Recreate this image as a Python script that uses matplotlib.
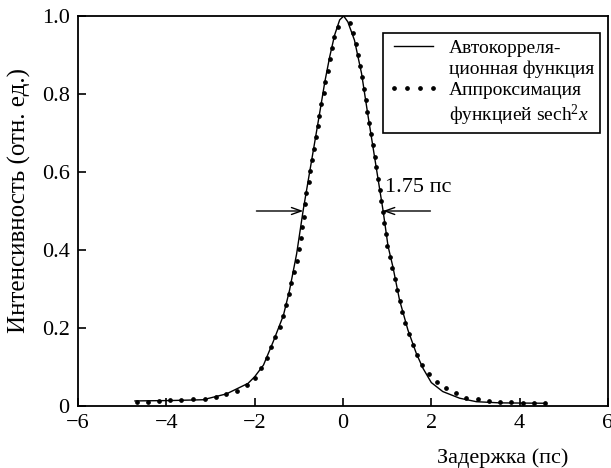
import matplotlib
matplotlib.use("Agg")
import matplotlib.pyplot as plt
from matplotlib.lines import Line2D

plt.rcParams['font.family'] = ['Liberation Serif', 'DejaVu Serif']
plt.rcParams['mathtext.fontset'] = 'custom'
plt.rcParams['mathtext.rm'] = 'Liberation Serif'
plt.rcParams['mathtext.it'] = 'Liberation Serif:italic'

# Autocorrelation trace (solid line)
acf_x = [-4.71, -3.9, -3.17, -2.64, -2.15, -2.0, -1.8, -1.58, -1.35, -1.21, -1.05,
         -0.90, -0.53, -0.41, -0.30, -0.19, -0.075, 0.016, 0.11, 0.26, 0.42, 0.57,
         0.905, 1.02, 1.13, 1.28, 1.47, 1.66, 1.81, 2.0, 2.26, 2.64, 3.02, 3.55, 4.6]
acf_y = [0.013, 0.014, 0.016, 0.031, 0.058, 0.075, 0.105, 0.165, 0.232, 0.297, 0.39,
         0.503, 0.75, 0.832, 0.896, 0.951, 0.99, 1.0, 0.985, 0.938, 0.853, 0.742,
         0.503, 0.41, 0.357, 0.272, 0.195, 0.135, 0.097, 0.06, 0.037, 0.02, 0.011, 0.008, 0.007]

# sech^2 approximation (dots)
fit_x = [-4.67, -4.41, -4.16, -3.91, -3.66, -3.39, -3.13, -2.88, -2.64, -2.40, -2.17,
         -2.00, -1.86, -1.73, -1.62, -1.53, -1.43, -1.36, -1.28, -1.22, -1.17, -1.11,
         -1.05, -0.995, -0.95, -0.92, -0.89, -0.87, -0.83, -0.78, -0.74, -0.70, -0.66,
         -0.60, -0.57, -0.54, -0.49, -0.44, -0.40, -0.35, -0.30, -0.25, -0.20, -0.11,
         0.15, 0.23, 0.29, 0.34, 0.39, 0.43, 0.47, 0.51, 0.54, 0.58, 0.63, 0.68, 0.72,
         0.75, 0.79, 0.83, 0.87, 0.905, 0.92, 0.97, 1.0, 1.06, 1.11, 1.17, 1.22, 1.28,
         1.34, 1.41, 1.49, 1.58, 1.67, 1.80, 1.94, 2.13, 2.34, 2.57, 2.79, 3.05, 3.30,
         3.56, 3.81, 4.07, 4.33, 4.58]
fit_y = [0.011, 0.011, 0.013, 0.0145, 0.015, 0.017, 0.019, 0.022, 0.030, 0.038, 0.053,
         0.071, 0.097, 0.122, 0.150, 0.176, 0.203, 0.231, 0.259, 0.287, 0.316, 0.344,
         0.372, 0.402, 0.430, 0.458, 0.485, 0.517, 0.545, 0.575, 0.603, 0.631, 0.66,
         0.69, 0.718, 0.744, 0.774, 0.803, 0.832, 0.859, 0.889, 0.917, 0.945, 0.973,
         0.983, 0.956, 0.928, 0.90, 0.872, 0.843, 0.813, 0.785, 0.755, 0.726, 0.697, 0.669, 0.639,
         0.612, 0.582, 0.554, 0.526, 0.498, 0.468, 0.44, 0.411, 0.383, 0.354, 0.325, 0.297, 0.269,
         0.24, 0.212, 0.184, 0.156, 0.131, 0.105, 0.082, 0.062, 0.045, 0.034, 0.021, 0.017, 0.013,
         0.010, 0.010, 0.008, 0.008, 0.008]

x_ticks = [-6, -4, -2, 0, 2, 4, 6]
x_tick_labels = ['\u22126', '\u22124', '\u22122', '0', '2', '4', '6']
y_ticks = [0, 0.2, 0.4, 0.6, 0.8, 1.0]
y_tick_labels = ['0', '0.2', '0.4', '0.6', '0.8', '1.0']

fwhm_left = [-1.96, -0.90]
fwhm_right = [1.98, 0.905]
fwhm_level = 0.5
fwhm_label = '1.75 пс'

legend_lines = ['Автокорреля-', 'ционная функция',
                'Аппроксимация', 'функцией sech$^2\\mathit{x}$']

fig = plt.figure(figsize=(6.11, 4.68), dpi=100)
ax = fig.add_axes([0.1277, 0.1325, 0.995 - 0.1277, 0.9658 - 0.1325])

h_acf, = ax.plot(acf_x, acf_y, color='black', lw=1.0)
h_fit, = ax.plot(fit_x, fit_y, linestyle='none', marker='o', ms=2.4, color='black')

ax.set_xlim(-6, 6)
ax.set_ylim(0, 1.0)
ax.set_xticks(x_ticks)
ax.set_xticklabels(x_tick_labels)
ax.set_yticks(y_ticks)
ax.set_yticklabels(y_tick_labels)
ax.tick_params(direction='in', length=6, width=1.2, labelsize=16, pad=6)
for s in ax.spines.values():
    s.set_linewidth(1.3)

ax.set_ylabel('Интенсивность (отн. ед.)', fontsize=18)
ax.yaxis.set_label_coords(-0.088, 0.528)
fig.text(0.9297, 0.022, 'Задержка (пс)', ha='right', va='center', fontsize=16)

arrow_props = dict(arrowstyle='->,head_length=0.7,head_width=0.25', color='black', lw=1.0,
                   shrinkA=0, shrinkB=0)
ax.annotate('', xy=(fwhm_left[1], fwhm_level), xytext=(fwhm_left[0], fwhm_level),
            arrowprops=arrow_props)
ax.annotate('', xy=(fwhm_right[1], fwhm_level), xytext=(fwhm_right[0], fwhm_level),
            arrowprops=arrow_props)
ax.text(0.95, 0.56, fwhm_label, ha='left', va='center', fontsize=16)

blank = Line2D([], [], linestyle='none', marker=None)
leg = ax.legend([h_acf, blank, h_fit, blank], legend_lines,
                loc='upper right', bbox_to_anchor=(0.985, 0.956), borderaxespad=0,
                fontsize=14, numpoints=4, handlelength=2.6, fancybox=False,
                framealpha=1, edgecolor='black', labelspacing=0.18, handletextpad=0.5,
                borderpad=0.3)
leg.get_frame().set_linewidth(1.2)

fig.savefig('out.png', dpi=100)
